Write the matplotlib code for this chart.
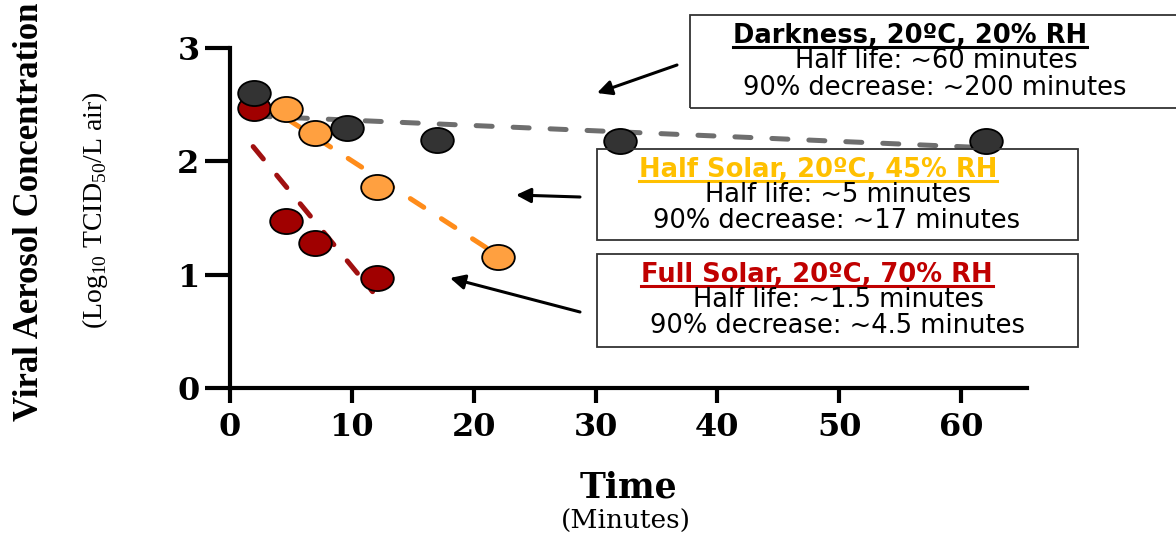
import numpy as np
import matplotlib
matplotlib.use("Agg")
import matplotlib.pyplot as plt
from matplotlib.path import Path
from matplotlib.patches import Rectangle
from matplotlib.lines import Line2D

plt.rcParams['mathtext.fontset'] = 'custom'
plt.rcParams['mathtext.rm'] = 'Liberation Serif'

# data
dark_t = [2, 9.6, 17, 32, 62]
dark_y = [2.60, 2.29, 2.19, 2.18, 2.18]
half_t = [4.6, 7.0, 12.1, 22.0]
half_y = [2.46, 2.25, 1.77, 1.16]
full_t = [2, 4.6, 7.0, 12.1]
full_y = [2.47, 1.47, 1.28, 0.97]

# fitted decay lines (endpoints)
dark_fit_t = [2, 62]
dark_fit_y = [2.40, 2.12]
half_fit_t = [4.6, 21.0]
half_fit_y = [2.38, 1.24]
full_fit_t = [1.9, 11.7]
full_fit_y = [2.13, 0.85]

xticks = [0, 10, 20, 30, 40, 50, 60]
yticks = [0, 1, 2, 3]

W, H = 1176, 541
fig = plt.figure(figsize=(W / 100, H / 100), dpi=100)
ax = fig.add_axes([230 / W, 1 - 388 / H, (1027 - 230) / W, (388 - 48) / H])


def fx(px):
    return px / W


def fy(py):
    return 1 - py / H


# ellipse marker (reference is stretched horizontally)
circ = Path.unit_circle()
ell = Path(circ.vertices * np.array([1.3, 1.0]), circ.codes)

dash = dict(lw=3.6, dashes=(3.2, 4.2), dash_capstyle='round', zorder=2)
ax.plot(dark_fit_t, dark_fit_y, color='#6e6e6e', **dash)
ax.plot(half_fit_t, half_fit_y, color='#ff8c1a', **dash)
ax.plot(full_fit_t, full_fit_y, color='#a01010', **dash)

mk = dict(ls='none', marker=ell, ms=23.5, mec='black', mew=1.3)
ax.plot(full_t, full_y, mfc='#a00000', zorder=3, **mk)
ax.plot(half_t, half_y, mfc='#ffa040', zorder=4, **mk)
ax.plot(dark_t, dark_y, mfc='#333333', zorder=5, **mk)

ax.set_xlim(0, 65.4)
ax.set_ylim(0, 3)
ax.spines['top'].set_visible(False)
ax.spines['right'].set_visible(False)
for s in ['left', 'bottom']:
    ax.spines[s].set_linewidth(3)
ax.set_xticks(xticks)
ax.set_yticks(yticks)
ax.tick_params(axis='y', length=18, width=3, pad=4)
ax.tick_params(axis='x', length=11, width=3, pad=6)
for lab in ax.get_xticklabels() + ax.get_yticklabels():
    lab.set_fontfamily('DejaVu Serif')
    lab.set_fontweight('bold')
    lab.set_fontsize(23)

# axis titles
fig.text(fx(628), fy(487), 'Time', ha='center', va='center',
         family='DejaVu Serif', weight='bold', fontsize=25)
fig.text(fx(626), fy(521), '(Minutes)', ha='center', va='center',
         family='DejaVu Serif', fontsize=19)
fig.text(fx(30), fy(212), 'Viral Aerosol Concentration', rotation=90,
         ha='center', va='center', family='Liberation Serif', weight='bold',
         fontsize=25)
fig.text(fx(95), fy(210), r'(Log$_{10}$ TCID$_{50}$/L air)', rotation=90,
         ha='center', va='center', family='Liberation Serif', fontsize=20)

# annotation boxes
boxes = [(690, 15, 1200, 108), (597, 149, 1078, 240), (597, 254, 1078, 347)]
for x0, y0, x1, y1 in boxes:
    fig.patches.append(Rectangle((fx(x0), fy(y1)), fx(x1 - x0), (y1 - y0) / H,
                                 transform=fig.transFigure, fill=False,
                                 ec='#333333', lw=1.3, clip_on=False))

headers = [('Darkness, 20ºC, 20% RH', 'black', 910, 43),
           ('Half Solar, 20ºC, 45% RH', '#ffc000', 818, 177),
           ('Full Solar, 20ºC, 70% RH', '#c00000', 817, 282)]
body = [('Half life: ~60 minutes', 936, 68),
        ('90% decrease: ~200 minutes', 935, 95),
        ('Half life: ~5 minutes', 838, 202),
        ('90% decrease: ~17 minutes', 837, 228),
        ('Half life: ~1.5 minutes', 838, 307),
        ('90% decrease: ~4.5 minutes', 837, 333)]

head_txt = []
for s, c, x, y in headers:
    t = fig.text(fx(x), fy(y), s, ha='center', va='baseline', color=c,
                 family='DejaVu Sans', weight='bold', fontsize=18.5)
    head_txt.append((t, c, y))
for s, x, y in body:
    fig.text(fx(x), fy(y), s, ha='center', va='baseline', color='black',
             family='DejaVu Sans', fontsize=18.5)

# underline the box headers
fig.canvas.draw()
r = fig.canvas.get_renderer()
for t, c, y in head_txt:
    bb = t.get_window_extent(r)
    yy = fy(y + 4)
    fig.add_artist(Line2D([bb.x0 / W, bb.x1 / W], [yy, yy], color=c, lw=2.2))

# arrows
arrows = [((677, 65), (597, 93)), ((580, 197), (516, 195)), ((580, 312), (450, 278))]
for (tx, ty), (hx, hy) in arrows:
    ax.annotate('', xy=(fx(hx), fy(hy)), xycoords='figure fraction',
                xytext=(fx(tx), fy(ty)), textcoords='figure fraction',
                arrowprops=dict(arrowstyle='-|>', color='black', lw=2.2,
                                mutation_scale=22, shrinkA=0, shrinkB=0))

fig.savefig('out.png', dpi=100)
